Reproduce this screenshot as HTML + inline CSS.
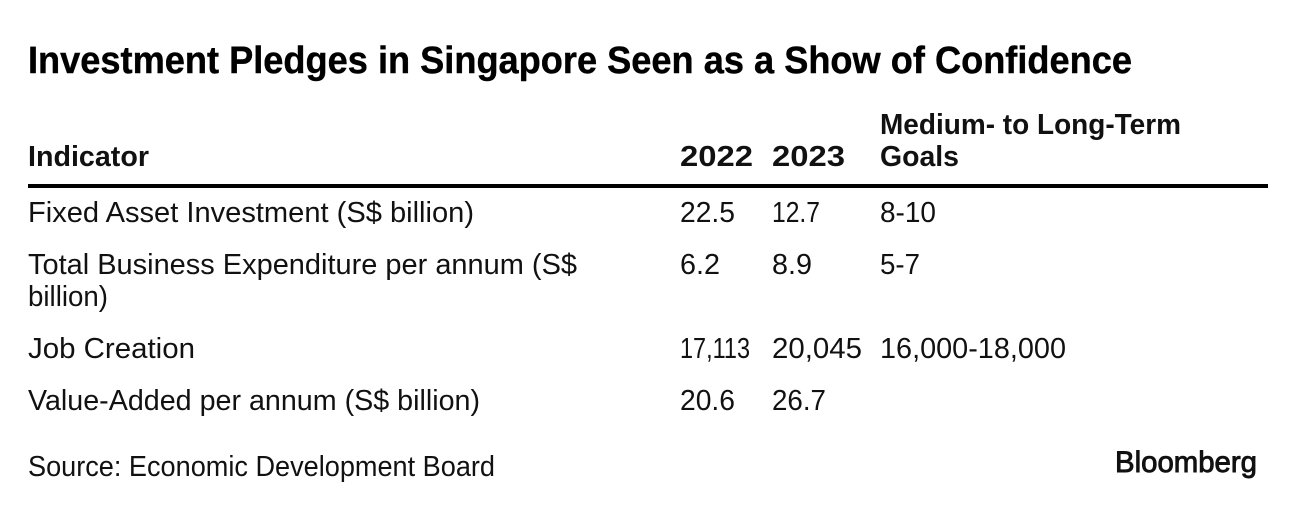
<!DOCTYPE html>
<html lang="en">
<head>
<meta charset="utf-8">
<title>Investment Pledges in Singapore Seen as a Show of Confidence</title>
<style>
  html, body { margin: 0; padding: 0; background: #fff; }
  body { width: 1296px; height: 508px; overflow: hidden; }
  svg { display: block; }
  text { font-family: "Liberation Sans", sans-serif; fill: #111; }
  .title { font-size: 38px; font-weight: 700; fill: #000; stroke: #000; stroke-width: 0.4px; }
  .head { font-size: 29px; font-weight: 700; }
  .cell { font-size: 29px; }
  .logo { font-size: 30px; font-weight: 400; stroke: #111; stroke-width: 0.9px; }
</style>
</head>
<body>
<svg width="1296" height="508" viewBox="0 0 1296 508" xmlns="http://www.w3.org/2000/svg">
  <rect x="0" y="0" width="1296" height="508" fill="#fff"/>
  <text class="title" x="28" y="73" textLength="1104" lengthAdjust="spacingAndGlyphs">Investment Pledges in Singapore Seen as a Show of Confidence</text>

  <text class="head" x="28" y="166" textLength="121" lengthAdjust="spacingAndGlyphs">Indicator</text>
  <text class="head" x="680" y="166" textLength="73" lengthAdjust="spacingAndGlyphs">2022</text>
  <text class="head" x="772" y="166" textLength="73" lengthAdjust="spacingAndGlyphs">2023</text>
  <text class="head" x="880" y="134" textLength="301" lengthAdjust="spacingAndGlyphs">Medium- to Long-Term</text>
  <text class="head" x="880" y="166" textLength="79" lengthAdjust="spacingAndGlyphs">Goals</text>
  <rect x="28" y="184" width="1240" height="4" fill="#000"/>

  <text class="cell" x="28" y="222" textLength="446" lengthAdjust="spacingAndGlyphs">Fixed Asset Investment (S$ billion)</text>
  <text class="cell" x="680" y="222" textLength="55" lengthAdjust="spacingAndGlyphs">22.5</text>
  <text class="cell" x="772" y="222" textLength="48" lengthAdjust="spacingAndGlyphs">12.7</text>
  <text class="cell" x="880" y="222" textLength="56" lengthAdjust="spacingAndGlyphs">8-10</text>

  <text class="cell" x="28" y="274" textLength="549" lengthAdjust="spacingAndGlyphs">Total Business Expenditure per annum (S$</text>
  <text class="cell" x="28" y="306" textLength="80" lengthAdjust="spacingAndGlyphs">billion)</text>
  <text class="cell" x="680" y="274" textLength="40" lengthAdjust="spacingAndGlyphs">6.2</text>
  <text class="cell" x="772" y="274" textLength="40" lengthAdjust="spacingAndGlyphs">8.9</text>
  <text class="cell" x="880" y="274" textLength="40" lengthAdjust="spacingAndGlyphs">5-7</text>

  <text class="cell" x="28" y="358" textLength="167" lengthAdjust="spacingAndGlyphs">Job Creation</text>
  <text class="cell" x="680" y="358" textLength="70" lengthAdjust="spacingAndGlyphs">17,113</text>
  <text class="cell" x="772" y="358" textLength="90" lengthAdjust="spacingAndGlyphs">20,045</text>
  <text class="cell" x="880" y="358" textLength="186" lengthAdjust="spacingAndGlyphs">16,000-18,000</text>

  <text class="cell" x="28" y="410" textLength="452" lengthAdjust="spacingAndGlyphs">Value-Added per annum (S$ billion)</text>
  <text class="cell" x="680" y="410" textLength="55" lengthAdjust="spacingAndGlyphs">20.6</text>
  <text class="cell" x="772" y="410" textLength="54" lengthAdjust="spacingAndGlyphs">26.7</text>

  <text class="cell" x="28" y="476" textLength="467" lengthAdjust="spacingAndGlyphs">Source: Economic Development Board</text>
  <text class="logo" x="1115" y="472" textLength="142" lengthAdjust="spacingAndGlyphs">Bloomberg</text>
</svg>
</body>
</html>
